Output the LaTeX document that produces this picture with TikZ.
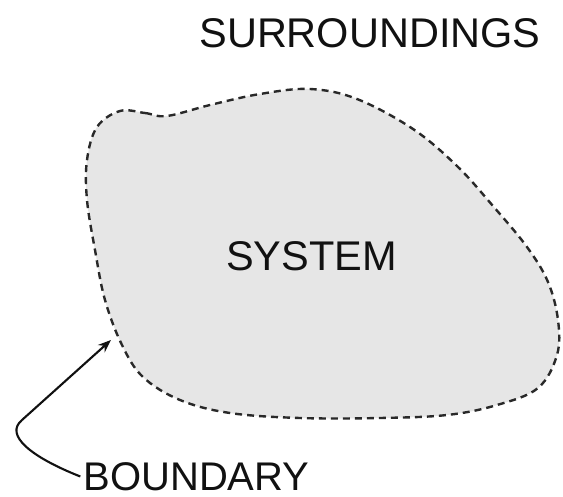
\documentclass[tikz,border=0pt]{standalone}
\usepackage{fontspec}
\setmainfont{Liberation Sans}
\usetikzlibrary{arrows.meta}
\definecolor{sysfill}{HTML}{E6E6E6}
\definecolor{ink}{HTML}{111111}
\tikzset{
  lbl/.style={inner sep=0pt, text height=29.7pt, text depth=0pt, anchor=center,
    font=\fontsize{41.5}{50}\selectfont, text=ink},
  smalllbl/.style={lbl, text height=28.6pt, font=\fontsize{40}{48}\selectfont},
  boundaryline/.style={draw=ink!90, line width=2.4pt, dash pattern=on 7pt off 5pt, fill=sysfill},
  pointer/.style={draw=ink, line width=2.1pt, -{Stealth[length=13pt,width=10pt]}}
}
\begin{document}
\begin{tikzpicture}[x=1pt,y=-1pt]
\useasboundingbox (0,0) rectangle (563,496);
\path[boundaryline] plot[smooth cycle, tension=0.6] coordinates {
 (120,111) (145,113) (167,116) (210,105) (260,94) (310,89) (357,99) (413,129)
 (457,166) (493,206) (527,247) (548,282) (558,320) (557,355) (538,388)
 (497,405) (447,415) (380,418) (300,418) (230,413) (180,400) (143,377)
 (122,345) (105,300) (95,250) (87,200) (87,160) (97,127)};
\node[lbl] (surr) at (370,32.5) {SURROUNDINGS};
\node[lbl] (sys) at (311.5,256) {SYSTEM};
\node[smalllbl] (bnd) at (196.5,476.5) {BOUNDARY};
\coordinate (tip) at (111,340);
\coordinate (bend) at (22,420);
\draw[pointer] ([xshift=-3pt]bnd.west) .. controls (31,457) and (4,435) .. (bend) -- (tip);
\end{tikzpicture}
\end{document}
